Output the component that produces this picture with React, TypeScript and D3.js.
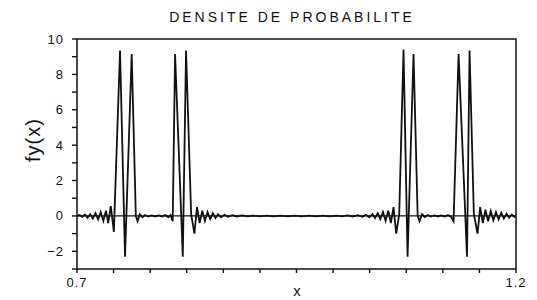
import React from 'react';
import * as d3 from 'd3';

// fy(x) sampled from the plot, [x, fy(x)]
const densityPoints: [number, number][] = [
  [0.700, 0.00], [0.703, 0.05], [0.706, -0.05], [0.709, 0.08], [0.712, -0.10],
  [0.715, 0.10], [0.718, -0.15], [0.721, 0.15], [0.724, -0.20], [0.727, 0.22],
  [0.730, -0.28], [0.733, 0.30], [0.7355, -0.40], [0.7385, 0.55], [0.7420, -0.90],
  [0.7490, 9.35], [0.7547, -2.30], [0.7623, 9.15], [0.7670, 0.00], [0.7690, -0.30],
  [0.7715, 0.10], [0.7745, -0.08], [0.7775, 0.05], [0.7810, -0.04], [0.7850, 0.03],
  [0.7890, -0.03], [0.7930, 0.03], [0.7970, -0.04], [0.8005, 0.05], [0.8040, -0.08],
  [0.8065, 0.05], [0.8090, -0.30], [0.8117, 9.15], [0.8205, -2.30], [0.8242, 9.35],
  [0.8300, 0.10], [0.8337, -1.00], [0.8367, 0.50], [0.8397, -0.40], [0.8427, 0.30],
  [0.8457, -0.28], [0.8487, 0.22], [0.8517, -0.18], [0.8547, 0.15], [0.8577, -0.12],
  [0.8607, 0.10], [0.8640, -0.08], [0.8680, 0.06], [0.8720, -0.05], [0.8770, 0.04],
  [0.8820, -0.03], [0.8880, 0.03], [0.8940, -0.02], [0.9000, 0.02], [0.9080, -0.02],
  [0.9160, 0.02], [0.9240, -0.02], [0.9320, 0.02], [0.9400, -0.02], [0.9480, 0.02],
  [0.9560, -0.02], [0.9640, 0.02], [0.9720, -0.02], [0.9800, 0.02], [0.9880, -0.02],
  [0.9960, 0.02], [1.0020, -0.02], [1.0080, 0.03], [1.0140, -0.03], [1.0200, 0.04],
  [1.0250, -0.05], [1.0290, 0.06], [1.0330, -0.08], [1.0365, 0.10], [1.0395, -0.12],
  [1.0425, 0.15], [1.0455, -0.18], [1.0485, 0.22], [1.0515, -0.28], [1.0545, 0.30],
  [1.0575, -0.40], [1.0605, 0.50], [1.0636, -1.00], [1.0670, 0.10], [1.0719, 9.40],
  [1.0765, -2.30], [1.0833, 9.15], [1.0880, 0.00], [1.0901, -0.30], [1.0930, 0.10],
  [1.0960, -0.06], [1.0995, 0.05], [1.1030, -0.04], [1.1070, 0.03], [1.1110, -0.03],
  [1.1150, 0.03], [1.1190, -0.04], [1.1225, 0.05], [1.1262, -0.06], [1.1289, -0.30],
  [1.1346, 9.15], [1.1442, -2.30], [1.1471, 9.35], [1.1520, 0.10], [1.1562, -1.00],
  [1.1592, 0.50], [1.1622, -0.40], [1.1652, 0.35], [1.1682, -0.30], [1.1712, 0.28],
  [1.1742, -0.25], [1.1772, 0.22], [1.1802, -0.20], [1.1832, 0.18], [1.1862, -0.15],
  [1.1892, 0.12], [1.1922, -0.10], [1.1952, 0.08], [1.1980, -0.06], [1.2000, 0.00],
];

const xDomain: [number, number] = [0.7, 1.2];
const yDomain: [number, number] = [-3, 10];
const xTickLabels = [0.7, 1.2];
const yTickLabels = [-2, 0, 2, 4, 6, 8, 10];
const xTickCount = 12;

const title = 'DENSITE DE PROBABILITE';
const yTitle = 'fy(x)';
const xTitle = 'x';

const W = 537;
const H = 300;
const margin = { top: 39, right: 21, bottom: 31, left: 77 };
const font = '"Liberation Sans", Arial, sans-serif';

const App: React.FC = () => {
  const x = d3.scaleLinear().domain(xDomain).range([margin.left, W - margin.right]);
  const y = d3.scaleLinear().domain(yDomain).range([H - margin.bottom, margin.top]);

  const line = d3.line<[number, number]>()
    .x(d => x(d[0]))
    .y(d => y(d[1]));

  const xTicks = d3.range(xTickCount + 1).map(i => xDomain[0] + (i * (xDomain[1] - xDomain[0])) / xTickCount);
  const yTicks = d3.range(yDomain[0], yDomain[1] + 1);
  const [x0, x1] = x.range();
  const [y0, y1] = y.range();

  return (
    <svg width={W} height={H} style={{ position: 'absolute', left: 0, top: 0, background: '#fff' }}>
      <text x={292} y={22} textAnchor="middle" fontFamily={font} fontSize={14} letterSpacing={3} fill="#111">
        {title}
      </text>

      {/* frame */}
      <rect x={x0} y={y1} width={x1 - x0} height={y0 - y1} fill="none" stroke="#111" strokeWidth={1.5} />

      {/* zero line */}
      <line x1={x0} x2={x1} y1={y(0)} y2={y(0)} stroke="#111" strokeWidth={1.3} />

      {/* y axis */}
      {yTicks.map(t => (
        <line key={'yt' + t} x1={x0 - 5} x2={x0} y1={y(t)} y2={y(t)} stroke="#111" strokeWidth={1.4} />
      ))}
      {yTickLabels.map(t => (
        <text key={'yl' + t} x={x0 - 13} y={y(t)} dy="0.35em" textAnchor="end" fontFamily={font} fontSize={13} letterSpacing={1} fill="#111">
          {t < 0 ? '\u2212' + Math.abs(t) : t}
        </text>
      ))}

      {/* x axis */}
      {xTicks.map((t, i) => (
        <line key={'xt' + i} x1={x(t)} x2={x(t)} y1={y0} y2={y0 + 4} stroke="#111" strokeWidth={1.4} />
      ))}
      {xTickLabels.map(t => (
        <text key={'xl' + t} x={x(t)} y={y0 + 18} textAnchor="middle" fontFamily={font} fontSize={13} letterSpacing={1} fill="#111">
          {t.toFixed(1)}
        </text>
      ))}

      <text x={297} y={296} textAnchor="middle" fontFamily={font} fontSize={15} fill="#111">{xTitle}</text>
      <text
        transform={`translate(40, 140) rotate(-90)`}
        textAnchor="middle"
        fontFamily={font}
        fontSize={20}
        letterSpacing={1}
        fill="#111"
      >
        {yTitle}
      </text>

      <path d={line(densityPoints) || ''} fill="none" stroke="#111" strokeWidth={1.8} strokeLinejoin="miter" />
    </svg>
  );
};

export default App;
